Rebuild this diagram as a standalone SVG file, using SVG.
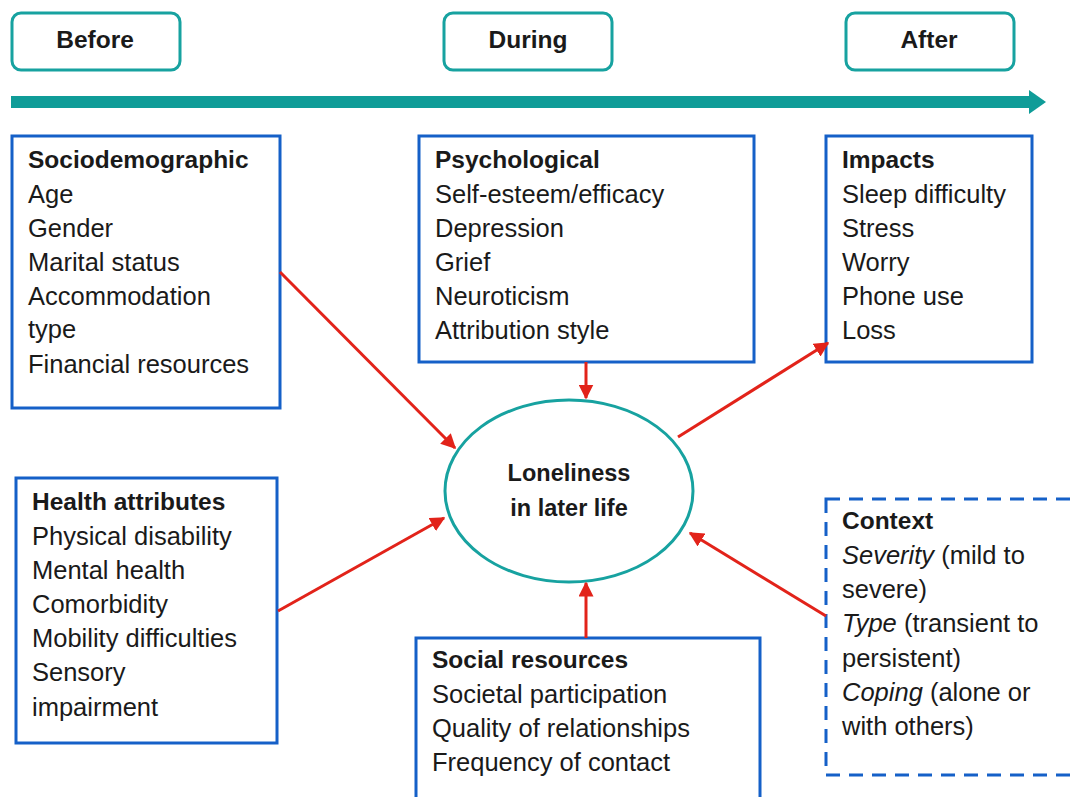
<svg xmlns="http://www.w3.org/2000/svg" width="1070" height="797" viewBox="0 0 1070 797">
<style>
.phase{fill:#fff;stroke:#17a2a0;stroke-width:3}
.box{fill:#fff;stroke:#1560c8;stroke-width:3}
.dash{fill:#fff;stroke:#1560c8;stroke-width:3;stroke-dasharray:14 9}
text{font-family:"Liberation Sans",Arial,sans-serif;font-size:25.5px;fill:#1a1a1a}
.b{font-weight:bold;font-size:24.5px}
.ph{font-weight:bold;font-size:24.5px;text-anchor:middle}
.l{font-weight:bold;font-size:23.5px;text-anchor:middle}
.c{stroke:#e2231a;stroke-width:3;fill:none;marker-end:url(#ah)}
</style>
<defs>
<marker id="ah" viewBox="0 0 10 10" refX="9" refY="5" markerWidth="5" markerHeight="5" orient="auto" markerUnits="strokeWidth">
<path d="M0,0 L10,5 L0,10 z" fill="#e2231a"/>
</marker>
</defs>
<rect width="1070" height="797" fill="#fff"/>
<g id="timeline">
<rect x="11" y="96" width="1020" height="12" fill="#0f9c98"/>
<path d="M1029,90 L1046,102 L1029,114 z" fill="#0f9c98"/>
</g>
<g id="before"><rect class="phase" x="12" y="13" width="168" height="57" rx="9"/><text class="ph" x="95" y="48">Before</text></g>
<g id="during"><rect class="phase" x="444" y="13" width="168" height="57" rx="9"/><text class="ph" x="528" y="48">During</text></g>
<g id="after"><rect class="phase" x="846" y="13" width="168" height="57" rx="9"/><text class="ph" x="929" y="48">After</text></g>
<g id="sociodemographic">
<rect class="box" x="12" y="136" width="268" height="272"/>
<text x="28" y="168" class="b">Sociodemographic</text>
<text x="28" y="203">Age</text>
<text x="28" y="237">Gender</text>
<text x="28" y="271">Marital status</text>
<text x="28" y="305">Accommodation</text>
<text x="28" y="338">type</text>
<text x="28" y="373">Financial resources</text>
</g>
<g id="psychological">
<rect class="box" x="419" y="136" width="335" height="226"/>
<text x="435" y="168" class="b">Psychological</text>
<text x="435" y="203">Self-esteem/efficacy</text>
<text x="435" y="237">Depression</text>
<text x="435" y="271">Grief</text>
<text x="435" y="305">Neuroticism</text>
<text x="435" y="339">Attribution style</text>
</g>
<g id="impacts">
<rect class="box" x="826" y="136" width="206" height="226"/>
<text x="842" y="168" class="b">Impacts</text>
<text x="842" y="203">Sleep difficulty</text>
<text x="842" y="237">Stress</text>
<text x="842" y="271">Worry</text>
<text x="842" y="305">Phone use</text>
<text x="842" y="339">Loss</text>
</g>
<g id="loneliness">
<ellipse cx="569" cy="491" rx="124" ry="91" fill="#fff" stroke="#17a2a0" stroke-width="3"/>
<text x="569" y="481" class="l">Loneliness</text>
<text x="569" y="516" class="l">in later life</text>
</g>
<g id="health">
<rect class="box" x="16" y="478" width="261" height="265"/>
<text x="32" y="510" class="b">Health attributes</text>
<text x="32" y="545">Physical disability</text>
<text x="32" y="579">Mental health</text>
<text x="32" y="613">Comorbidity</text>
<text x="32" y="647">Mobility difficulties</text>
<text x="32" y="681">Sensory</text>
<text x="32" y="716">impairment</text>
</g>
<g id="social">
<rect class="box" x="416" y="638" width="344" height="175"/>
<text x="432" y="668" class="b">Social resources</text>
<text x="432" y="703">Societal participation</text>
<text x="432" y="737">Quality of relationships</text>
<text x="432" y="771">Frequency of contact</text>
</g>
<g id="context">
<rect class="dash" x="826" y="499" width="260" height="276"/>
<text x="842" y="529" class="b">Context</text>
<text x="842" y="564"><tspan font-style="italic">Severity</tspan> (mild to</text>
<text x="842" y="598">severe)</text>
<text x="842" y="632"><tspan font-style="italic">Type</tspan> (transient to</text>
<text x="842" y="667">persistent)</text>
<text x="842" y="701"><tspan font-style="italic">Coping</tspan> (alone or</text>
<text x="842" y="735">with others)</text>
</g>
<g id="connectors">
<line class="c" x1="280" y1="272" x2="455" y2="448"/>
<line class="c" x1="586" y1="362" x2="586" y2="398"/>
<line class="c" x1="678" y1="437" x2="828" y2="343"/>
<line class="c" x1="278" y1="611" x2="444" y2="518"/>
<line class="c" x1="586" y1="638" x2="586" y2="583"/>
<line class="c" x1="826" y1="616" x2="690" y2="533"/>
</g>
</svg>
